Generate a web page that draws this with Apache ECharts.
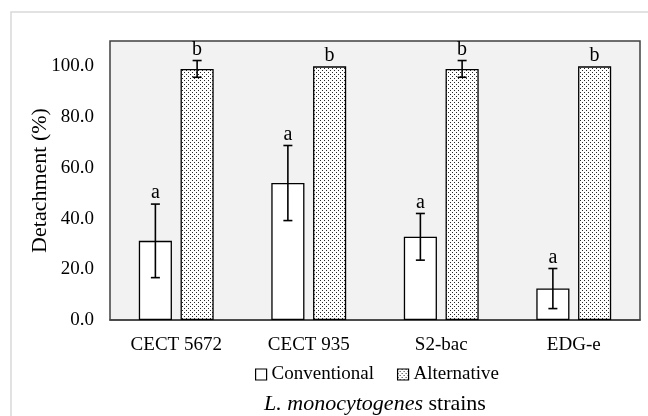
<!DOCTYPE html>
<html><head><meta charset="utf-8">
<script src="https://cdn.jsdelivr.net/npm/echarts@6/dist/echarts.min.js"></script>
<style>html,body{margin:0;padding:0;background:#fff}#c{width:648px;height:416px}</style>
</head><body><div id="c"></div>
<script>
var categories = ['CECT 5672', 'CECT 935', 'S2-bac', 'EDG-e'];
var conventional = [31.2, 54.0, 32.8, 12.4];
var conventionalErr = [14.5, 14.8, 9.2, 7.9];
var alternative = [99.0, 100.0, 99.0, 100.0];
var alternativeErr = [3.3, 0, 3.3, 0];
var conventionalLetters = ['a', 'a', 'a', 'a'];
var alternativeLetters = ['b', 'b', 'b', 'b'];
var yTicks = { min: 0, max: 110, interval: 20 };

var FONT = '"Liberation Serif", "Times New Roman", serif';
var BAR_FRAC = 0.25, GAP_FRAC = 0.26;

// dotted pattern
var pc = document.createElement('canvas');
pc.width = 4; pc.height = 4;
var px = pc.getContext('2d');
px.fillStyle = '#ffffff'; px.fillRect(0, 0, 4, 4);
px.fillStyle = '#2a2a2a';
px.fillRect(0, 0, 1, 1); px.fillRect(2, 2, 1, 1);
var dotPattern = { image: pc, repeat: 'repeat' };

function errData(vals, errs) {
  return vals.map(function (v, i) { return [i, v, errs[i]]; });
}
var errSeriesLetters = {};

function makeErrRender(sign) {
  return function (params, api) {
    var ci = api.value(0), v = api.value(1), e = api.value(2);
    var letter = errSeriesLetters[params.seriesIndex][params.dataIndex];
    var band = api.size([1, 0])[0];
    var bw = band * BAR_FRAC;
    var off = sign * (bw + bw * GAP_FRAC) / 2;
    var c = api.coord([ci, v]);
    var x = c[0] + off;
    var top = api.coord([ci, v + e])[1];
    var bot = api.coord([ci, v - e])[1];
    var cap = 4.5;
    var children = [];
    if (e > 0) {
      var ls = { stroke: '#000', lineWidth: 1.6 };
      children.push({ type: 'line', shape: { x1: x, y1: top, x2: x, y2: bot }, style: ls });
      children.push({ type: 'line', shape: { x1: x - cap, y1: top, x2: x + cap, y2: top }, style: ls });
      children.push({ type: 'line', shape: { x1: x - cap, y1: bot, x2: x + cap, y2: bot }, style: ls });
    }
    children.push({ type: 'text', style: { text: letter, x: x, y: top - 1, align: 'center', verticalAlign: 'bottom', font: '20px ' + FONT, fill: '#000' } });
    return { type: 'group', children: children };
  };
}

var chart = echarts.init(document.getElementById('c'), null, { renderer: 'canvas' });
var option = {
  backgroundColor: '#ffffff',
  animation: false,
  graphic: [{
    type: 'rect', z: -10, silent: true,
    shape: { x: 11, y: 12, width: 700, height: 500 },
    style: { fill: 'none', stroke: '#d9d9d9', lineWidth: 1.5 }
  }],
  grid: {
    left: 110, right: 8, top: 41, bottom: 96, outerBoundsMode: 'none', containLabel: false,
    show: true, backgroundColor: '#f2f2f2', borderColor: '#404040', borderWidth: 1.5
  },
  legend: {
    bottom: 27, left: 250,
    itemWidth: 11, itemHeight: 11, itemGap: 23,
    textStyle: { fontFamily: FONT, fontSize: 19, color: '#000' },
    data: [
      { name: 'Conventional', icon: 'rect', itemStyle: { color: '#fff', borderColor: '#000', borderWidth: 1.2 } },
      { name: 'Alternative', icon: 'rect', itemStyle: { color: dotPattern, borderColor: '#000', borderWidth: 1.2 } }
    ]
  },
  xAxis: {
    type: 'category', data: categories,
    axisLine: { lineStyle: { color: '#404040', width: 1.5 } },
    axisTick: { show: false },
    axisLabel: { fontFamily: FONT, fontSize: 19, color: '#000', margin: 16 },
    name: '{i|L. monocytogenes} strains',
    nameLocation: 'middle', nameGap: 73, nameMoveOverlap: false,
    nameTextStyle: {
      fontFamily: FONT, fontSize: 22, color: '#000', verticalAlign: 'top',
      rich: { i: { fontFamily: FONT, fontSize: 22, fontStyle: 'italic', color: '#000' } }
    }
  },
  yAxis: {
    type: 'value', min: yTicks.min, max: yTicks.max, interval: yTicks.interval,
    splitLine: { show: false },
    axisLine: { show: false }, axisTick: { show: false },
    axisLabel: { fontFamily: FONT, fontSize: 19, color: '#000', margin: 16, showMaxLabel: false,
      formatter: function (v) { return v.toFixed(1); } },
    name: 'Detachment (%)', nameLocation: 'middle', nameGap: 59, nameMoveOverlap: false,
    nameTextStyle: { fontFamily: FONT, fontSize: 22, color: '#000' }
  },
  series: [
    { name: 'Conventional', type: 'bar', data: conventional, barWidth: (BAR_FRAC * 100) + '%', barGap: (GAP_FRAC * 100) + '%',
      itemStyle: { color: '#ffffff', borderColor: '#000', borderWidth: 1.3 } },
    { name: 'Alternative', type: 'bar', data: alternative, barWidth: (BAR_FRAC * 100) + '%', barGap: (GAP_FRAC * 100) + '%',
      itemStyle: { color: dotPattern, borderColor: '#000', borderWidth: 1.3 } },
    { name: 'errC', type: 'custom', renderItem: makeErrRender(-1), data: errData(conventional, conventionalErr), z: 10 },
    { name: 'errA', type: 'custom', renderItem: makeErrRender(1), data: errData(alternative, alternativeErr), z: 10 }
  ]
};
errSeriesLetters[2] = conventionalLetters;
errSeriesLetters[3] = alternativeLetters;
chart.setOption(option);
</script>
</body></html>
